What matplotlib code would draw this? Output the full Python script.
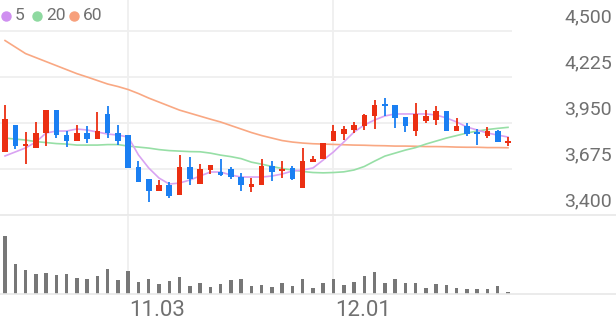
"""
Daily candlestick chart with 5/20/60 moving averages and volume panel.
"""

import matplotlib

matplotlib.use("Agg")

import matplotlib.pyplot as plt
from matplotlib.lines import Line2D
import numpy as np

plt.rcParams["font.family"] = ["Roboto", "DejaVu Sans"]

# ---- data ----
opens = [3775, 3940, 3815, 3800, 3890, 4030, 3880, 3845, 3890, 3855,
         4005, 3890, 3880, 3685, 3615, 3545, 3580, 3520, 3685, 3585,
         3670, 3655, 3675, 3630, 3570, 3580, 3690, 3665, 3680, 3560,
         3715, 3735, 3840, 3885, 3910, 3930, 3990, 4065, 4055, 3985,
         3900, 3960, 3970, 4020, 3900, 3930, 3895, 3875, 3900, 3830]
highs = [4060, 3940, 3895, 3955, 4030, 4030, 3900, 3940, 3930, 4015,
         4050, 3940, 3880, 3725, 3615, 3610, 3595, 3760, 3745, 3705,
         3700, 3735, 3685, 3650, 3620, 3735, 3720, 3720, 3690, 3800,
         3755, 3830, 3940, 3930, 3955, 4005, 4085, 4100, 4055, 3985,
         4070, 4030, 4050, 4020, 3980, 3950, 3915, 3925, 3910, 3865]
lows = [3775, 3795, 3705, 3800, 3810, 3860, 3805, 3845, 3830, 3855,
        3860, 3820, 3680, 3600, 3475, 3545, 3500, 3520, 3580, 3585,
        3645, 3635, 3615, 3545, 3540, 3580, 3605, 3620, 3610, 3560,
        3715, 3735, 3840, 3850, 3890, 3910, 3915, 3990, 3920, 3895,
        3870, 3950, 3940, 3900, 3900, 3870, 3820, 3860, 3835, 3815]
closes = [3975, 3815, 3825, 3890, 4030, 3880, 3845, 3890, 3855, 3905,
          3890, 3845, 3680, 3600, 3545, 3580, 3515, 3685, 3615, 3675,
          3700, 3640, 3630, 3580, 3585, 3695, 3660, 3675, 3615, 3720,
          3735, 3830, 3905, 3915, 3940, 3995, 4055, 4050, 3980, 3930,
          4005, 3990, 4020, 3900, 3930, 3885, 3885, 3900, 3835, 3845]

ma5 = [3753, 3777, 3801, 3836, 3890, 3902, 3902, 3914, 3908, 3896,
       3884, 3878, 3866, 3759, 3681, 3621, 3585, 3591, 3609, 3633,
       3657, 3657, 3639, 3627, 3627, 3627, 3633, 3645, 3663, 3669,
       3681, 3729, 3777, 3836, 3896, 3938, 3968, 3992, 4004, 4004,
       4004, 4004, 3998, 3980, 3956, 3926, 3908, 3890, 3878, 3866]
ma20 = [3860, 3854, 3848, 3839, 3833, 3827, 3824, 3818, 3818, 3818,
        3821, 3821, 3812, 3806, 3800, 3791, 3785, 3782, 3779, 3778,
        3770, 3758, 3749, 3737, 3716, 3704, 3690, 3678, 3669, 3660,
        3654, 3652, 3654, 3658, 3669, 3690, 3722, 3752, 3770, 3788,
        3803, 3824, 3842, 3860, 3875, 3890, 3902, 3911, 3918, 3924]
ma60 = [4443, 4404, 4365, 4341, 4317, 4293, 4269, 4245, 4225, 4204,
        4183, 4168, 4150, 4126, 4099, 4075, 4051, 4027, 4009, 3991,
        3973, 3956, 3935, 3914, 3893, 3875, 3860, 3845, 3836, 3830,
        3826, 3824, 3822, 3820, 3818, 3817, 3815, 3814, 3812, 3812,
        3811, 3809, 3809, 3808, 3806, 3805, 3805, 3803, 3803, 3802]

# volume in thousands of shares
volume = [1166, 600, 480, 400, 426, 380, 406, 314, 294, 366,
          494, 280, 460, 246, 294, 194, 254, 346, 166, 226,
          134, 200, 274, 294, 166, 174, 140, 226, 166, 294,
          120, 214, 294, 180, 234, 354, 440, 214, 306, 226,
          214, 126, 194, 174, 114, 100, 100, 106, 160, 46]

date_idx = [12, 32]
date_labels = ["11.03", "12.01"]

price_ticks = [3400, 3675, 3950, 4225, 4500]
ma_labels = ["5", "20", "60"]

# ---- styling ----
UP = "#eb2f12"
DOWN = "#1a7ff2"
MA_COLORS = ["#d9a3f2", "#97dfa6", "#f9a883"]
LEGEND_COLORS = ["#cf8ff0", "#8ed9a0", "#f7a07c"]
GRID = "#efefef"
TEXT = "#707070"

fig = plt.figure(figsize=(6.16, 3.21), dpi=100)
W, H = 616, 321

ax = fig.add_axes([0, (H - 215) / H, 512 / W, 215 / H])
axv = fig.add_axes([0, (H - 294) / H, 512 / W, 78 / H], sharex=ax)

x = np.arange(len(opens))
o = np.array(opens, dtype=float)
c = np.array(closes, dtype=float)
hi = np.array(highs, dtype=float)
lo = np.array(lows, dtype=float)
colors = np.where(c >= o, UP, DOWN)

# moving averages below candles
for series, col in zip([ma60, ma20, ma5], MA_COLORS[::-1]):
    ax.plot(x, series, color=col, linewidth=1.2, zorder=2)

ax.vlines(x, lo, hi, colors=colors, linewidth=1.3, zorder=3)
ax.bar(
    x,
    np.maximum(np.abs(c - o), 6),
    bottom=np.minimum(o, c),
    width=0.54,
    color=colors,
    linewidth=0,
    zorder=4,
)

ax.set_xlim(-0.49, 49.39)
ax.set_ylim(3400, 4500 + 31 * 1100 / 184)
for t in price_ticks[1:]:
    ax.axhline(t, color=GRID, linewidth=1.3, zorder=1)
for i in date_idx:
    ax.axvline(i, color=GRID, linewidth=1.3, zorder=1)
    axv.axvline(i, color=GRID, linewidth=1.3, zorder=1)

for t in price_ticks:
    ax.annotate(
        f"{t:,}",
        xy=(612 / W, t),
        xycoords=(fig.transFigure, ax.transData),
        xytext=(0, 10),
        textcoords="offset points",
        ha="right",
        va="center",
        fontsize=14,
        color=TEXT,
    )

# volume
axv.bar(x, volume, width=0.34, color="#777777", linewidth=0)
axv.set_ylim(0, 1560)

for a in (ax, axv):
    a.set_axis_off()

for i, lab in zip(date_idx, date_labels):
    axv.annotate(
        lab,
        xy=(i, 0),
        xycoords=("data", fig.transFigure),
        xytext=(1, 0),
        textcoords="offset points",
        ha="left",
        va="bottom",
        fontsize=16,
        color=TEXT,
        annotation_clip=False,
    )

# separator lines across full width
for yy in (215, 294):
    fig.add_artist(
        Line2D([0, 1], [(H - yy) / H] * 2, color="#e8e8e8", linewidth=1.2,
               transform=fig.transFigure)
    )

# legend
leg_x = [6, 37, 74]
for lx, col, lab in zip(leg_x, LEGEND_COLORS, ma_labels):
    fig.add_artist(
        Line2D([lx / W], [(H - 16) / H], marker="o", markersize=6.5,
               color=col, linestyle="none", transform=fig.transFigure)
    )
    fig.text((lx + 9) / W, (H - 16) / H, lab, fontsize=12.5, color=TEXT,
             va="center", ha="left")

fig.savefig("out.png", dpi=100)
